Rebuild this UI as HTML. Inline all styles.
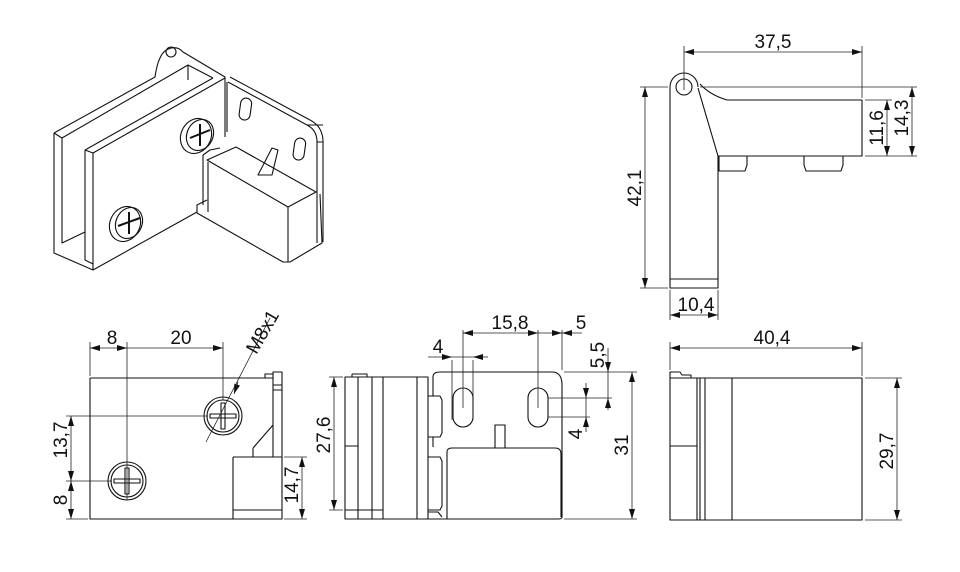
<!DOCTYPE html>
<html><head><meta charset="utf-8"><style>
html,body{margin:0;padding:0;background:#fff}
svg{display:block}
text{font-family:"Liberation Sans",Arial,sans-serif;font-size:19px;fill:#111}
</style></head><body>
<svg width="960" height="572" viewBox="0 0 960 572" xmlns="http://www.w3.org/2000/svg">
<defs>
<marker id="a" viewBox="0 0 10 6" refX="10" refY="3" markerWidth="10" markerHeight="6" orient="auto-start-reverse" markerUnits="userSpaceOnUse"><path d="M0,0 L10,3 L0,6 z" fill="#111"/></marker>
</defs>
<g fill="none" stroke="#111" stroke-width="1.1" stroke-linejoin="round">
<path d="M54,133 L155,77 C156,70 158,62 160,58 C164,48 176,44 183,52 L225,77 L225,137"/>
<circle cx="171" cy="52" r="5"/>
<path d="M54,133 L54,253 L93,270"/>
<path d="M62,138 L188,65 L213,78 M188,65 L188,80"/>
<path d="M62,138 L62,243 L85,232"/>
<path d="M54,133 L62,138"/>
<path d="M85,150 L213,78 M85,150 L93,153 L225,78 M85,150 L85,260 L93,264"/>
<path d="M93,153 L93,270 L197,212"/>
<path d="M227,82 L227,132"/>
<path d="M230,77 L310,120 Q322,126 323,140 L323,242 M228,82 L307,125 Q317,130 317,142 L317,243"/>
<path d="M307,125 L323,125 M317,142 L323,142"/>
<rect x="240" y="98" width="11" height="22" rx="5.5" transform="rotate(8 245 108)"/>
<rect x="294" y="138" width="11" height="22" rx="5.5" transform="rotate(8 299 148)"/>
<path d="M207,160 L236,147 L316,192 L288,207 Z"/>
<path d="M208,162 L208,212 M288,207 L288,262 M197,213 L197,205 L207,200 M197,213 L283,262 L290,262 L322,243 L320,194"/>
<path d="M203,155 L210,150 L220,148 M203,155 L203,205"/>
<path d="M258,175 L272,148 L278,150 L272,175 Z"/>
<ellipse cx="196" cy="136" rx="15" ry="18" transform="rotate(25 196 136)"/>
<ellipse cx="200" cy="135" rx="13" ry="16" transform="rotate(25 200 135)"/>
<path d="M190,138 L210,130 M200,124 L200,146" stroke-width="2"/>
<ellipse cx="125" cy="224" rx="15" ry="18" transform="rotate(25 125 224)"/>
<ellipse cx="129" cy="223" rx="13" ry="16" transform="rotate(25 129 223)"/>
<path d="M118,226 L140,218 M129,212 L129,234" stroke-width="2"/>

<path d="M670,87 L670,288 L718,288 L718,156 L862,156 L862,100 L727,100 Q710,95 700,84"/>
<path d="M670,87 A14,14 0 0 1 698,87"/>
<circle cx="684" cy="87" r="8"/>
<path d="M698,88 L718,156 M670,279 L718,279"/>
<path d="M719,156 L719,171 L745,171 L747,165 L747,156 M804,156 L804,165 L806,171 L841,171 L843,165 L843,156"/>

<path d="M90,378 L273,378 L273,457 M90,378 L90,519 L282,519 L282,385 L273,385 M273,378 L273,372 L282,372 L282,385 M265,378 L265,374 L273,374 M273,385 L282,385 M273,390 L282,390"/>
<path d="M233,457 L282,457 M233,457 L233,519 M233,510 L282,510 M253,448 L273,425 M253,448 L253,457"/>
<circle cx="223" cy="416" r="19"/><circle cx="223" cy="416" r="16"/>
<path d="M210,414 L236,414 L236,418 L210,418 Z M221,403 L225,403 L225,429 L221,429 Z"/>
<circle cx="127" cy="481" r="19"/><circle cx="127" cy="481" r="16"/>
<path d="M114,479 L140,479 L140,483 L114,483 Z M125,468 L129,468 L129,494 L125,494 Z"/>

<path d="M345,377 L428,377 L428,519 L345,519 Z M358,377 L358,519 M372,377 L372,519 M383,377 L383,519 M417,377 L417,519 M352,374 L367,374 L367,377 M352,374 L352,377 M345,446 L358,446 M345,510 L383,510"/>
<path d="M433,377 Q433,372 440,372 L552,372 Q562,372 562,385 L562,517 Q562,519 558,519 L428,519"/>
<path d="M433,377 L433,396"/>
<path d="M428,396 L440,396 L442,400 L442,433 L440,437 L428,437 M433,437 L433,447"/>
<path d="M428,457 L440,457 L442,461 L442,506 L440,510 L428,510 M428,512 L438,512 L442,517"/>
<path d="M447,452 Q447,448 452,448 L555,448 Q561,448 561,454 L561,517 M447,452 L447,519"/>
<rect x="453" y="388" width="20" height="39" rx="10"/>
<rect x="528" y="388" width="20" height="39" rx="10"/>
<path d="M495,448 L495,425 L505,425 L505,448"/>

<path d="M670,378 L862,378 L862,520 L670,520 Z M697,378 L697,520 M700,378 L700,520 M705,378 L705,520 M732,378 L732,520 M670,446 L697,446 M670,378 L670,372 L680,372 L682,375 L691,375 L691,378"/>
</g>

<g fill="none" stroke="#222" stroke-width="0.8">
<path d="M684,90 L684,46 M862,98 L862,46"/><path d="M684,52 L862,52" marker-start="url(#a)" marker-end="url(#a)"/>
<path d="M668,87 L640,87 M668,288 L640,288"/><path d="M645,87 L645,288" marker-start="url(#a)" marker-end="url(#a)"/>
<path d="M670,290 L670,320 M718,290 L718,320"/><path d="M670,315 L718,315" marker-start="url(#a)" marker-end="url(#a)"/>
<path d="M865,100 L892,100 M700,87 L917,87 M865,156 L917,156"/>
<path d="M887,100 L887,156" marker-start="url(#a)" marker-end="url(#a)"/>
<path d="M912,87 L912,156" marker-start="url(#a)" marker-end="url(#a)"/>
<path d="M90,376 L90,342 M127,342 L127,500 M223,342 L223,400"/>
<path d="M90,348 L127,348" marker-start="url(#a)" marker-end="url(#a)"/>
<path d="M127,348 L223,348" marker-end="url(#a)"/>
<path d="M66,416 L208,416 M66,481 L112,481 M66,519 L88,519"/>
<path d="M71,416 L71,481" marker-start="url(#a)" marker-end="url(#a)"/>
<path d="M71,481 L71,519" marker-start="url(#a)" marker-end="url(#a)"/>
<path d="M284,457 L307,457 M284,519 L307,519"/>
<path d="M302,457 L302,519" marker-start="url(#a)" marker-end="url(#a)"/>
<path d="M270,318 L206,442"/>
<path d="M238,382 L234,394" marker-end="url(#a)"/>
<path d="M343,377 L329,377 M343,510 L329,510"/>
<path d="M334,377 L334,510" marker-start="url(#a)" marker-end="url(#a)"/>
<path d="M463,330 L463,408 M538,330 L538,408 M562,330 L562,370"/>
<path d="M463,333 L538,333" marker-start="url(#a)" marker-end="url(#a)"/>
<path d="M538,333 L562,333" marker-end="url(#a)"/><path d="M582,333 L562,333" marker-end="url(#a)"/>
<path d="M452,360 L452,420 M473,360 L473,420"/>
<path d="M428,357 L452,357" marker-end="url(#a)"/><path d="M488,357 L473,357" marker-end="url(#a)"/><path d="M452,357 L473,357"/>
<path d="M564,372 L637,372 M548,398 L612,398 M548,417 L590,417"/>
<path d="M608,348 L608,372" marker-end="url(#a)"/><path d="M608,410 L608,398" marker-end="url(#a)"/><path d="M608,372 L608,398"/>
<path d="M586,383 L586,398" marker-end="url(#a)"/><path d="M586,432 L586,417" marker-end="url(#a)"/><path d="M586,398 L586,417"/>
<path d="M564,519 L637,519"/>
<path d="M632,372 L632,519" marker-start="url(#a)" marker-end="url(#a)"/>
<path d="M670,370 L670,342 M862,376 L862,342"/>
<path d="M670,348 L862,348" marker-start="url(#a)" marker-end="url(#a)"/>
<path d="M865,378 L902,378 M865,520 L902,520"/>
<path d="M897,378 L897,520" marker-start="url(#a)" marker-end="url(#a)"/>
</g>

<g>
<text x="773" y="48" text-anchor="middle">37,5</text>
<text x="696" y="311" text-anchor="middle">10,4</text>
<text transform="translate(641,188) rotate(-90)" text-anchor="middle">42,1</text>
<text transform="translate(883,128) rotate(-90)" text-anchor="middle">11,6</text>
<text transform="translate(908,118) rotate(-90)" text-anchor="middle">14,3</text>
<text x="112" y="344" text-anchor="middle">8</text>
<text x="181" y="344" text-anchor="middle">20</text>
<text transform="translate(67,440) rotate(-90)" text-anchor="middle">13,7</text>
<text transform="translate(67,500) rotate(-90)" text-anchor="middle">8</text>
<text transform="translate(298,485) rotate(-90)" text-anchor="middle">14,7</text>
<text transform="translate(268,335) rotate(-60)" text-anchor="middle">M8x1</text>
<text transform="translate(330,435) rotate(-90)" text-anchor="middle">27,6</text>
<text x="510" y="329" text-anchor="middle">15,8</text>
<text x="581" y="329" text-anchor="middle">5</text>
<text x="438" y="353" text-anchor="middle">4</text>
<text transform="translate(604,355) rotate(-90)" text-anchor="middle">5,5</text>
<text transform="translate(582,434) rotate(-90)" text-anchor="middle">4</text>
<text transform="translate(628,445) rotate(-90)" text-anchor="middle">31</text>
<text x="772" y="344" text-anchor="middle">40,4</text>
<text transform="translate(893,451) rotate(-90)" text-anchor="middle">29,7</text>
</g>
</svg>
</body></html>
